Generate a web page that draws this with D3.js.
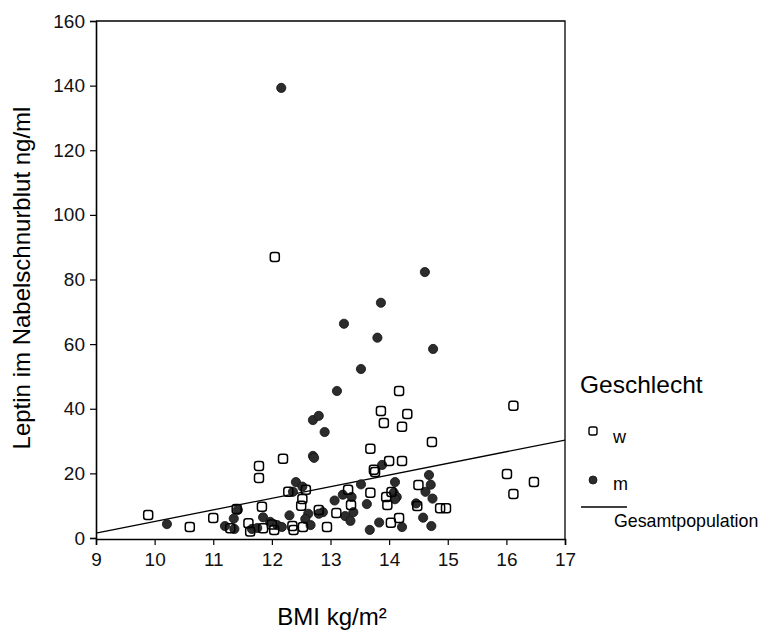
<!DOCTYPE html>
<html>
<head>
<meta charset="utf-8">
<script src="https://cdn.jsdelivr.net/npm/d3@7"></script>
<style>
  body { margin: 0; background: #fff; }
  svg { font-family: "Liberation Sans", Arial, sans-serif; }
</style>
</head>
<body>
<svg id="chart" width="771" height="630"></svg>
<script>
// BMI / Leptin values
const wBmi = [9.89, 10.6, 11.0, 11.29, 11.4, 11.6, 11.63, 11.83, 11.85, 12.0, 12.04, 12.35, 12.37,
  12.53, 12.5, 12.8, 12.94, 13.1, 13.35, 13.97, 14.03, 14.17, 14.48, 14.87, 14.97, 11.78, 11.78,
  12.19, 12.28, 12.58, 12.52, 12.05, 14.17, 13.86, 14.31, 13.91, 14.22, 16.12, 14.73, 13.68,
  14.0, 14.22, 13.74, 13.76, 16.01, 16.47, 16.12, 14.5, 13.68, 13.3, 13.95, 14.04];
const wLeptin = [7.1, 3.4, 6.2, 3.0, 9.0, 4.6, 2.0, 9.7, 3.0, 4.2, 2.5, 3.7, 2.5,
  3.4, 10.0, 8.7, 3.4, 7.7, 10.2, 10.2, 4.7, 6.2, 9.9, 9.2, 9.2, 22.3, 18.6,
  24.5, 14.3, 14.9, 12.1, 87.0, 45.5, 39.3, 38.4, 35.6, 34.4, 40.9, 29.7, 27.6,
  23.8, 23.8, 21.1, 20.4, 19.8, 17.3, 13.6, 16.4, 14.0, 14.9, 12.7, 14.2];

const mBmi = [12.16, 14.61, 13.86, 13.23, 13.8, 14.75, 13.52, 13.11, 12.7, 12.8, 12.9, 12.7, 12.72,
  12.41, 12.52, 12.36, 11.42, 11.35, 11.2, 11.36, 10.21, 11.66, 11.75, 11.85, 11.97, 12.09, 12.17,
  12.3, 12.62, 12.57, 12.66, 12.87, 12.8, 13.88, 13.52, 14.1, 14.08, 14.13, 14.1, 14.68, 14.71,
  14.62, 14.74, 14.46, 13.62, 13.21, 13.36, 13.07, 13.39, 13.25, 13.34, 13.67, 13.83, 14.22,
  14.58, 14.72];
const mLeptin = [139.3, 82.3, 72.8, 66.3, 62.0, 58.5, 52.3, 45.5, 36.5, 37.8, 32.8, 25.4, 24.8,
  17.3, 15.9, 14.3, 8.7, 6.0, 3.7, 2.8, 4.3, 2.8, 3.1, 6.4, 5.0, 4.0, 3.4,
  7.0, 7.5, 5.9, 4.0, 8.0, 7.5, 22.6, 16.6, 17.3, 14.0, 12.7, 12.0, 19.5, 16.5,
  14.3, 12.2, 10.7, 10.5, 13.4, 12.7, 11.6, 8.0, 6.8, 5.3, 2.5, 4.8, 3.4,
  6.3, 3.7];

// Gesamtpopulation fit line (ends of the drawn segment)
const fitBmi = [9, 17];
const fitLeptin = [1.5, 30.3];

const xTicks = [9, 10, 11, 12, 13, 14, 15, 16, 17];
const yTicks = [0, 20, 40, 60, 80, 100, 120, 140, 160];

const svg = d3.select("#chart");
const plotL = 96, plotR = 565, plotT = 21, plotB = 538;

const x = d3.scaleLinear().domain([9, 17]).range([plotL, plotR]);
const y = d3.scaleLinear().domain([0, 160]).range([plotB, plotT]);

// frame top + right
svg.append("path")
  .attr("d", `M${plotL},${plotT}H${plotR}V${plotB + 1}`)
  .attr("fill", "none")
  .attr("stroke", "#000")
  .attr("stroke-width", 1.3);

const yAxis = svg.append("g")
  .attr("transform", `translate(${plotL},0)`)
  .call(d3.axisLeft(y).tickValues(yTicks).tickSize(6).tickPadding(5));
const xAxis = svg.append("g")
  .attr("transform", `translate(0,${plotB + 1})`)
  .call(d3.axisBottom(x).tickValues(xTicks).tickSize(6).tickPadding(8));

[xAxis, yAxis].forEach((g) => {
  g.select(".domain").attr("stroke-width", 1.6);
  g.selectAll(".tick line").attr("stroke-width", 1.2);
  g.selectAll("text")
    .attr("font-family", "Liberation Sans, Arial, sans-serif")
    .attr("font-size", 19)
    .attr("fill", "#111");
});

// regression line
const line = d3.line().x((d) => x(d[0])).y((d) => y(d[1]));
svg.append("path")
  .datum(d3.zip(fitBmi, fitLeptin))
  .attr("d", line)
  .attr("fill", "none")
  .attr("stroke", "#000")
  .attr("stroke-width", 1.3);

// m: filled dots
svg.append("g")
  .selectAll("circle")
  .data(d3.zip(mBmi, mLeptin))
  .enter()
  .append("circle")
  .attr("cx", (d) => x(d[0]))
  .attr("cy", (d) => y(d[1]))
  .attr("r", 4.6)
  .attr("fill", "#2c2c2c")
  .attr("stroke", "#111")
  .attr("stroke-width", 0.8);

// w: open squares
const sq = 9;
svg.append("g")
  .selectAll("rect")
  .data(d3.zip(wBmi, wLeptin))
  .enter()
  .append("rect")
  .attr("x", (d) => x(d[0]) - sq / 2)
  .attr("y", (d) => y(d[1]) - sq / 2)
  .attr("width", sq)
  .attr("height", sq)
  .attr("rx", 2.5)
  .attr("fill", "none")
  .attr("stroke", "#000")
  .attr("stroke-width", 1.5);

// axis titles
svg.append("text")
  .attr("transform", "translate(30,278) rotate(-90)")
  .attr("text-anchor", "middle")
  .attr("font-size", 24)
  .text("Leptin im Nabelschnurblut ng/ml");

svg.append("text")
  .attr("x", 332)
  .attr("y", 625)
  .attr("text-anchor", "middle")
  .attr("font-size", 24)
  .text("BMI kg/m²");

// legend
const lg = svg.append("g");
lg.append("text").attr("x", 580).attr("y", 393).attr("font-size", 24.5).text("Geschlecht");
lg.append("rect")
  .attr("x", 589).attr("y", 427).attr("width", 8).attr("height", 8).attr("rx", 2)
  .attr("fill", "none").attr("stroke", "#000").attr("stroke-width", 1.4);
lg.append("text").attr("x", 613).attr("y", 443).attr("font-size", 18).text("w");
lg.append("circle")
  .attr("cx", 593).attr("cy", 480).attr("r", 4)
  .attr("fill", "#2c2c2c").attr("stroke", "#111").attr("stroke-width", 0.8);
lg.append("text").attr("x", 613).attr("y", 490).attr("font-size", 18).text("m");
lg.append("line")
  .attr("x1", 581).attr("x2", 627).attr("y1", 507).attr("y2", 507)
  .attr("stroke", "#000").attr("stroke-width", 1.3);
lg.append("text").attr("x", 614).attr("y", 527).attr("font-size", 17.8).text("Gesamtpopulation");
</script>
</body>
</html>
